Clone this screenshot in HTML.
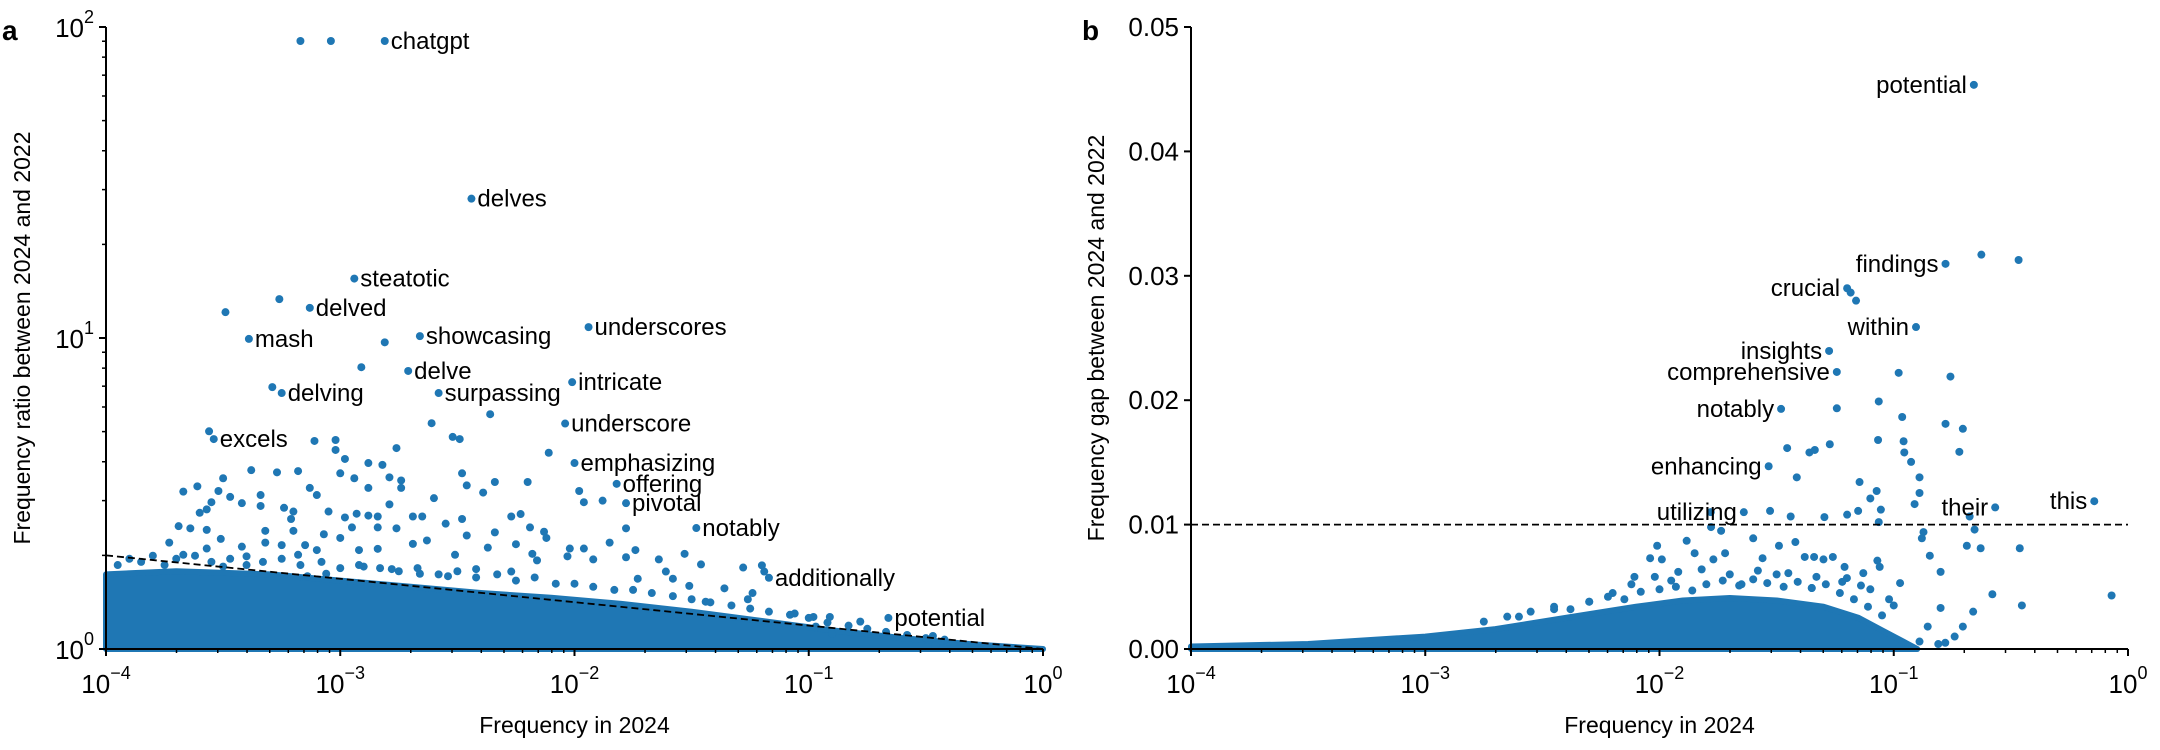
<!DOCTYPE html>
<html><head><meta charset="utf-8"><style>
html,body{margin:0;padding:0;background:#fff;}
svg{display:block;font-family:"Liberation Sans",Arial,sans-serif;}
</style></head><body>
<svg id="fig" width="2160" height="750" viewBox="0 0 2160 750"></svg>
<script>
// ---------- Panel a data (log10 frequency 2024, log10 ratio) ----------
const labeledWordsA = ["chatgpt","delves","steatotic","delved","mash","showcasing","underscores","delve","intricate","delving","surpassing","underscore","excels","emphasizing","offering","pivotal","notably","additionally","potential"];
const labeledLogFreqA = [-2.81,-2.44,-2.94,-3.13,-3.39,-2.66,-1.94,-2.71,-2.01,-3.25,-2.58,-2.04,-3.54,-2.0,-1.82,-1.78,-1.48,-1.17,-0.66];
const labeledLogRatioA = [1.955,1.448,1.191,1.097,0.997,1.006,1.035,0.894,0.858,0.823,0.823,0.725,0.675,0.598,0.531,0.469,0.389,0.229,0.1];
const otherLogFreqA = [-3.17,-3.04,-3.26,-3.49,-2.81,-2.91,-3.29,-3.56,-3.11,-3.02,-3.02,-2.76,-2.61,-2.52,-2.49,-2.36,-2.11,-2.98,-2.94,-3.0,-2.88,-2.82,-2.79,-2.74,-2.74,-2.88,-3.13,-3.1,-3.38,-3.27,-3.18,-3.5,-3.67,-3.61,-3.52,-3.55,-3.57,-3.6,-3.47,-3.42,-3.34,-3.34,-3.24,-3.21,-3.2,-3.05,-2.98,-2.93,-2.88,-2.84,-2.79,-2.6,-2.48,-2.46,-2.39,-2.34,-2.2,-2.69,-2.65,-2.48,-2.27,-2.23,-2.19,-2.34,-2.13,-2.12,-2.55,-2.46,-2.76,-2.84,-2.95,-3.07,-3.2,-3.32,-3.42,-3.32,-3.25,-3.69,-3.64,-3.57,-3.51,-3.73,-3.67,-3.57,-3.5,-3.4,-3.18,-3.15,-3.1,-3.0,-2.92,-2.84,-2.69,-2.63,-2.51,-2.37,-2.25,-2.18,-2.02,-1.96,-1.92,-1.85,-1.74,-1.64,-1.53,-1.46,-1.28,-1.2,-1.19,-1.36,-1.26,-1.78,-1.73,-1.61,-1.58,-1.51,-1.44,-1.06,-0.98,-0.91,-0.78,-0.97,-0.9,-0.47,-0.46,-1.98,-1.96,-1.88,-1.78,-2.03,-2.16,-2.27,-2.42,-2.54,-2.66,-2.78,-2.9,-3.06,-3.14,-1.24,
-3.95,-3.9,-3.85,-3.8,-3.75,-3.7,-3.62,-3.55,-3.47,-3.4,-3.33,-3.25,-3.17,-3.08,-3.0,-2.92,-2.83,-2.75,-2.67,-2.58,-2.5,-2.42,-2.33,-2.25,-2.17,-2.08,-2.0,-1.92,-1.83,-1.75,-1.67,-1.58,-1.5,-1.42,-1.33,-1.25,-1.17,-1.08,-1.0,-0.92,-0.83,-0.75,-0.67,-0.58,-0.5,-0.42];
const otherLogRatioA = [1.955,1.955,1.125,1.083,0.986,0.906,0.842,0.7,0.669,0.672,0.64,0.646,0.726,0.682,0.675,0.755,0.631,0.611,0.549,0.565,0.598,0.592,0.552,0.542,0.518,0.518,0.518,0.495,0.575,0.568,0.572,0.549,0.506,0.523,0.508,0.472,0.449,0.438,0.489,0.469,0.495,0.46,0.454,0.418,0.442,0.442,0.423,0.435,0.429,0.426,0.465,0.485,0.565,0.526,0.503,0.537,0.537,0.426,0.426,0.418,0.426,0.434,0.391,0.375,0.377,0.357,0.403,0.365,0.388,0.391,0.391,0.369,0.38,0.38,0.329,0.342,0.334,0.395,0.388,0.383,0.354,0.342,0.303,0.323,0.265,0.298,0.303,0.334,0.318,0.357,0.318,0.322,0.338,0.349,0.303,0.326,0.337,0.306,0.323,0.323,0.288,0.342,0.318,0.288,0.306,0.272,0.262,0.269,0.249,0.195,0.16,0.295,0.226,0.249,0.226,0.203,0.152,0.114,0.103,0.103,0.088,0.072,0.049,0.042,0.011,0.508,0.472,0.477,0.388,0.298,0.285,0.249,0.257,0.234,0.242,0.257,0.265,0.242,0.234,0.18,
0.27,0.29,0.28,0.3,0.27,0.29,0.3,0.28,0.29,0.27,0.28,0.29,0.27,0.28,0.26,0.27,0.26,0.25,0.26,0.24,0.25,0.23,0.24,0.22,0.23,0.21,0.21,0.2,0.19,0.19,0.18,0.17,0.16,0.15,0.14,0.13,0.12,0.11,0.1,0.085,0.075,0.065,0.055,0.045,0.035,0.03];
const bandLogFreqA = [-4,-3.7,-3.3,-3,-2.7,-2.4,-2.1,-1.8,-1.5,-1.2,-0.9,-0.6,-0.3,0];
const bandLogRatioA = [0.24,0.25,0.24,0.22,0.2,0.18,0.165,0.145,0.12,0.09,0.06,0.035,0.015,0];
const refLineLogFreqA = [-4,0];
const refLineRatioA = [2,1];
const xTickExpA = [-4,-3,-2,-1,0];
const yTickExpA = [0,1,2];

// ---------- Panel b data (log10 frequency 2024, gap) ----------
const labeledWordsB = ["potential","findings","crucial","within","insights","comprehensive","notably","enhancing","utilizing","their","this"];
const labeledLogFreqB = [-0.658,-0.779,-1.199,-0.905,-1.276,-1.243,-1.481,-1.534,-1.64,-0.567,-0.144];
const labeledGapB = [0.04535,0.03096,0.029,0.02588,0.02396,0.02227,0.0193,0.01469,0.011,0.01138,0.01188];
const otherLogFreqB = [-0.626,-0.467,-1.184,-1.161,-0.979,-0.758,-1.243,-1.064,-0.964,-0.779,-0.705,-1.067,-0.958,-1.273,-1.455,-1.36,-1.337,-0.955,-0.72,-0.926,-1.414,-0.89,-1.146,-0.89,-1.073,-1.1,-0.911,-1.152,-1.055,-0.676,-1.781,-1.528,-1.44,-1.296,-1.199,-1.064,-0.655,-0.873,-0.88,-0.688,-0.629,-0.462,-0.846,-0.8,-0.973,-0.579,-0.07,-0.453,-0.661,-0.8,-0.855,-0.705,-0.74,-0.89,-0.81,-0.78,-2.01,-1.884,-2.04,-1.99,-1.85,-1.77,-1.72,-1.737,-1.78,-1.6,-1.49,-1.42,-1.38,-1.34,-1.3,-1.56,-1.5,-1.26,-1.21,-1.13,-1.07,-1.06,-1.14,-1.2,-2.107,-2.2,-2.3,-2.45,-2.6,-1.95,-1.65,-1.35,-1.02,-1.0,
-2.75,-2.65,-2.55,-2.45,-2.38,-2.3,-2.22,-2.15,-2.08,-2.0,-1.93,-1.86,-1.8,-1.73,-1.66,-1.6,-1.54,-1.47,-1.41,-1.35,-1.29,-1.23,-1.17,-1.11,-1.05,-1.92,-1.82,-1.7,-1.58,-1.45,-1.33,-1.22,-1.1,-2.12,-2.02];
const otherGapB = [0.0317,0.03127,0.02865,0.028,0.0222,0.0219,0.01935,0.0199,0.01865,0.0181,0.0177,0.0168,0.0167,0.01646,0.01615,0.0158,0.016,0.0158,0.01585,0.01504,0.0138,0.0138,0.01342,0.01254,0.0127,0.0121,0.01165,0.0111,0.0112,0.01065,0.0110,0.0111,0.01065,0.0106,0.0108,0.0102,0.0096,0.0094,0.0089,0.0083,0.0081,0.0081,0.0075,0.0062,0.0053,0.0044,0.0043,0.0035,0.003,0.0033,0.0018,0.0018,0.001,0.0006,0.0004,0.0005,0.0083,0.0087,0.0073,0.0072,0.0077,0.0072,0.0077,0.0095,0.0098,0.0089,0.0083,0.0086,0.0074,0.0074,0.0072,0.0073,0.006,0.0074,0.0066,0.0061,0.0071,0.0066,0.0051,0.0057,0.0058,0.0045,0.0038,0.0032,0.0026,0.0055,0.0052,0.0049,0.004,0.0035,
0.0022,0.0026,0.003,0.0034,0.0032,0.0038,0.0042,0.004,0.0046,0.0048,0.005,0.0047,0.0052,0.0055,0.0051,0.0056,0.0053,0.005,0.0054,0.0049,0.0052,0.0045,0.004,0.0034,0.0027,0.0062,0.0064,0.006,0.0063,0.0061,0.0058,0.0054,0.0048,0.0052,0.0058];
const bandLogFreqB = [-4,-3.5,-3,-2.7,-2.4,-2.1,-1.9,-1.7,-1.5,-1.3,-1.15,-1.05,-0.95,-0.9];
const bandGapB = [0.0002,0.0004,0.0010,0.0016,0.0025,0.0034,0.0039,0.0041,0.0039,0.0034,0.0025,0.0015,0.0005,0];
const thresholdGapB = [0.01];
const xTickExpB = [-4,-3,-2,-1,0];
const yTickB = [0,0.01,0.02,0.03,0.04,0.05];

const NS = "http://www.w3.org/2000/svg";
const svg = document.getElementById("fig");
const COLOR = "#1f77b4";
const R = 4;
const TICK_FS = 26, SUP_FS = 18, TITLE_FS = 23, WORD_FS = 24;
function mk(tag, attrs, parent){const e=document.createElementNS(NS,tag);for(const k in attrs)e.setAttribute(k,attrs[k]);(parent||svg).appendChild(e);return e;}

const A = {x0:106,x1:1043,y0:649,y1:27};
const axA = lx => A.x0 + (lx+4)/4*(A.x1-A.x0);
const ayA = ly => A.y0 - ly/2*(A.y0-A.y1);
const B = {x0:1191,x1:2128,y0:649,y1:27};
const axB = lx => B.x0 + (lx+4)/4*(B.x1-B.x0);
const ayB = g => B.y0 - g/0.05*(B.y0-B.y1);

// panel a
const gA = mk("g",{});


let pts = bandLogFreqA.map((v,i)=>axA(v)+","+ayA(bandLogRatioA[i])).join(" ");
pts += " "+axA(0)+","+A.y0+" "+axA(-4)+","+A.y0;
const bandA = mk("polygon",{points:pts,fill:COLOR,stroke:COLOR,"stroke-width":6,"stroke-linejoin":"round"},gA);


otherLogFreqA.forEach((v,i)=>{const c=mk("circle",{cx:axA(v),cy:ayA(otherLogRatioA[i]),r:R,fill:COLOR},gA);

});
labeledLogFreqA.forEach((v,i)=>{const cx=axA(v),cy=ayA(labeledLogRatioA[i]);
const c=mk("circle",{cx:cx,cy:cy,r:R,fill:COLOR},gA);


const t=mk("text",{x:cx+6,y:cy+8,"font-size":WORD_FS,fill:"#000"},gA);t.textContent=labeledWordsA[i];

});
const refA = mk("line",{x1:axA(refLineLogFreqA[0]),y1:ayA(Math.log10(refLineRatioA[0])),x2:axA(refLineLogFreqA[1]),y2:ayA(Math.log10(refLineRatioA[1])),stroke:"#000","stroke-width":1.8,"stroke-dasharray":"7,4"},gA);


const axisA = mk("path",{d:`M${A.x0},${A.y1}V${A.y0}H${A.x1}`,stroke:"#000","stroke-width":2,fill:"none"},gA);


for(let d=-4;d<0;d++){for(let m=2;m<=9;m++){const x=axA(d+Math.log10(m));mk("line",{x1:x,x2:x,y1:A.y0,y2:A.y0+4,stroke:"#000","stroke-width":1.5},gA);}}
for(let d=0;d<2;d++){for(let m=2;m<=9;m++){const y=ayA(d+Math.log10(m));mk("line",{x1:A.x0,x2:A.x0-4,y1:y,y2:y,stroke:"#000","stroke-width":1.5},gA);}}
xTickExpA.forEach(e=>{const x=axA(e);mk("line",{x1:x,x2:x,y1:A.y0,y2:A.y0+7,stroke:"#000","stroke-width":2},gA);
const t=mk("text",{x:x,y:A.y0+44,"font-size":TICK_FS,"text-anchor":"middle"},gA);
t.innerHTML=`10<tspan dy="-14" font-size="${SUP_FS}">${e===0?"0":"\u2212"+(-e)}</tspan>`;

});
yTickExpA.forEach(e=>{const y=ayA(e);mk("line",{x1:A.x0,x2:A.x0-7,y1:y,y2:y,stroke:"#000","stroke-width":2},gA);
const t=mk("text",{x:A.x0-12,y:y+10,"font-size":TICK_FS,"text-anchor":"end"},gA);
t.innerHTML=`10<tspan dy="-14" font-size="${SUP_FS}">${e}</tspan>`;

});
const xtA=mk("text",{x:(A.x0+A.x1)/2,y:733,"font-size":TITLE_FS,"text-anchor":"middle"},gA);xtA.textContent="Frequency in 2024";


const ytA=mk("text",{x:0,y:0,"font-size":TITLE_FS,"text-anchor":"middle",transform:`translate(30,${(A.y0+A.y1)/2}) rotate(-90)`},gA);ytA.textContent="Frequency ratio between 2024 and 2022";


const la=mk("text",{x:2,y:40,"font-size":28,"font-weight":"bold"},gA);la.textContent="a";



// panel b
const gB = mk("g",{});


let ptsB = bandLogFreqB.map((v,i)=>axB(v)+","+ayB(bandGapB[i])).join(" ");
ptsB += " "+axB(bandLogFreqB[bandLogFreqB.length-1])+","+B.y0+" "+axB(-4)+","+B.y0;
const bandB = mk("polygon",{points:ptsB,fill:COLOR,stroke:COLOR,"stroke-width":6,"stroke-linejoin":"round"},gB);


otherLogFreqB.forEach((v,i)=>{const c=mk("circle",{cx:axB(v),cy:ayB(otherGapB[i]),r:R,fill:COLOR},gB);

});
const thB = mk("line",{x1:B.x0,x2:B.x1,y1:ayB(thresholdGapB[0]),y2:ayB(thresholdGapB[0]),stroke:"#000","stroke-width":1.8,"stroke-dasharray":"7,4"},gB);


labeledLogFreqB.forEach((v,i)=>{const cx=axB(v),cy=ayB(labeledGapB[i]);
const c=mk("circle",{cx:cx,cy:cy,r:R,fill:COLOR},gB);


const t=mk("text",{x:cx-7,y:cy+8,"font-size":WORD_FS,"text-anchor":"end",fill:"#000"},gB);t.textContent=labeledWordsB[i];

});
const axisB = mk("path",{d:`M${B.x0},${B.y1}V${B.y0}H${B.x1}`,stroke:"#000","stroke-width":2,fill:"none"},gB);


for(let d=-4;d<0;d++){for(let m=2;m<=9;m++){const x=axB(d+Math.log10(m));mk("line",{x1:x,x2:x,y1:B.y0,y2:B.y0+4,stroke:"#000","stroke-width":1.5},gB);}}
xTickExpB.forEach(e=>{const x=axB(e);mk("line",{x1:x,x2:x,y1:B.y0,y2:B.y0+7,stroke:"#000","stroke-width":2},gB);
const t=mk("text",{x:x,y:B.y0+44,"font-size":TICK_FS,"text-anchor":"middle"},gB);
t.innerHTML=`10<tspan dy="-14" font-size="${SUP_FS}">${e===0?"0":"\u2212"+(-e)}</tspan>`;

});
yTickB.forEach(v=>{const y=ayB(v);mk("line",{x1:B.x0,x2:B.x0-7,y1:y,y2:y,stroke:"#000","stroke-width":2},gB);
const t=mk("text",{x:B.x0-12,y:y+9,"font-size":TICK_FS,"text-anchor":"end"},gB);t.textContent=v.toFixed(2);

});
const xtB=mk("text",{x:(B.x0+B.x1)/2,y:733,"font-size":TITLE_FS,"text-anchor":"middle"},gB);xtB.textContent="Frequency in 2024";


const ytB=mk("text",{x:0,y:0,"font-size":TITLE_FS,"text-anchor":"middle",transform:`translate(1104,${(B.y0+B.y1)/2}) rotate(-90)`},gB);ytB.textContent="Frequency gap between 2024 and 2022";


const lb=mk("text",{x:1082,y:40,"font-size":28,"font-weight":"bold"},gB);lb.textContent="b";


</script>
</body></html>
